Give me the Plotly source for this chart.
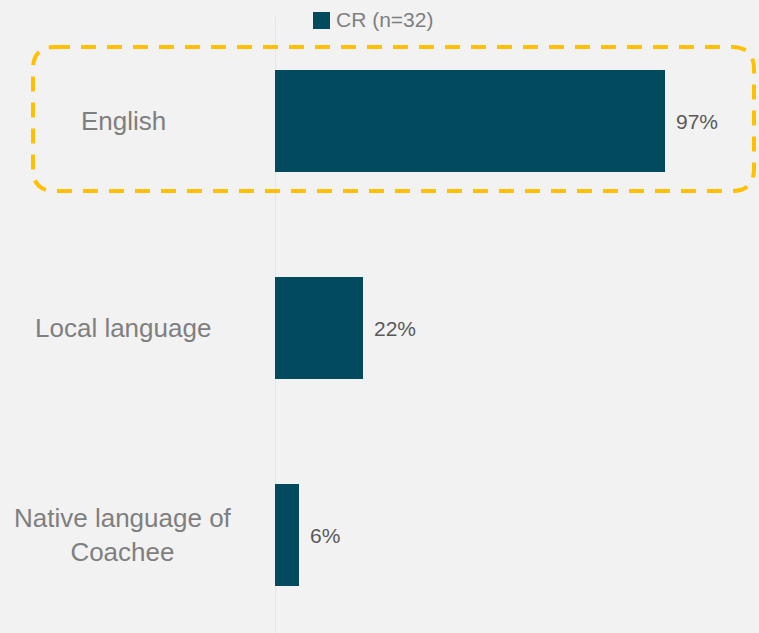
import plotly.graph_objects as go

# Survey results: language used in coaching sessions
categories = ["English", "Local language", "Native language of<br>Coachee"]
values = [97, 22, 6]
series_name = "CR (n=32)"

BAR_COLOR = "#024B5E"
BG = "#F2F2F2"
LABEL_GREY = "#7F7F7F"
VALUE_GREY = "#595959"
FONT = "Arial, Liberation Sans, sans-serif"

W, H = 759, 633
ML, MR, MT, MB = 275, 82, 0, 0
PW, PH = W - ML - MR, H - MT - MB

# category positions: 0, 1, 2 with one category step = 207 px, first centre at y=121 px
STEP = 207.0
y_top = -121.0 / STEP
y_bot = (H - 121.0) / STEP

fig = go.Figure()
fig.add_trace(go.Bar(
    x=values,
    y=list(range(len(categories))),
    orientation="h",
    marker=dict(color=BAR_COLOR, line=dict(width=0)),
    width=0.493,
    name=series_name,
    showlegend=False,
    hoverinfo="skip",
))


def px_to_paper_x(px):
    return (px - ML) / PW


def px_to_paper_y(py):
    return 1 - (py - MT) / PH


annotations = []
# category labels, centred in the left margin
for i, cat in enumerate(categories):
    annotations.append(dict(
        x=px_to_paper_x(123), xref="paper", y=i, yref="y",
        text=cat, showarrow=False, xanchor="center", yanchor="middle",
        align="center", font=dict(family=FONT, size=26, color=LABEL_GREY),
    ))
# value labels at the end of each bar
for i, v in enumerate(values):
    annotations.append(dict(
        x=v, xref="x", y=i, yref="y", text=f"{v}%", showarrow=False,
        xanchor="left", yanchor="middle", xshift=9,
        font=dict(family=FONT, size=21, color=VALUE_GREY),
    ))
# legend entry
annotations.append(dict(
    x=px_to_paper_x(334), xref="paper", y=px_to_paper_y(20), yref="paper",
    text=series_name, showarrow=False, xanchor="left", yanchor="middle",
    font=dict(family=FONT, size=21, color=LABEL_GREY),
))

shapes = []
# legend swatch
shapes.append(dict(
    type="rect", xref="paper", yref="paper",
    x0=px_to_paper_x(313), x1=px_to_paper_x(330),
    y0=px_to_paper_y(12), y1=px_to_paper_y(29),
    fillcolor=BAR_COLOR, line=dict(width=0), layer="above",
))
# vertical baseline at zero
shapes.append(dict(
    type="line", xref="x", yref="paper", x0=0, x1=0,
    y0=0, y1=px_to_paper_y(17),
    line=dict(color="#D9D9D9", width=1), layer="below",
))

# dashed rounded highlight box around the first row
x0, x1, y0, y1, r = 33, 754, 47, 191, 22
pts = []


def P(px, py):
    return f"{px_to_paper_x(px):.5f},{px_to_paper_y(py):.5f}"


path = (
    f"M{P(x0 + r, y0)} L{P(x1 - r, y0)} Q{P(x1, y0)} {P(x1, y0 + r)} "
    f"L{P(x1, y1 - r)} Q{P(x1, y1)} {P(x1 - r, y1)} "
    f"L{P(x0 + r, y1)} Q{P(x0, y1)} {P(x0, y1 - r)} "
    f"L{P(x0, y0 + r)} Q{P(x0, y0)} {P(x0 + r, y0)} Z"
)
shapes.append(dict(
    type="path", xref="paper", yref="paper", path=path,
    line=dict(color="#FFC000", width=4, dash="15px,11px"),
    fillcolor="rgba(0,0,0,0)", layer="above",
))

fig.update_layout(
    width=W, height=H,
    margin=dict(l=ML, r=MR, t=MT, b=MB, pad=0),
    paper_bgcolor=BG, plot_bgcolor=BG,
    xaxis=dict(range=[0, 100], visible=False, fixedrange=True),
    yaxis=dict(range=[y_bot, y_top], visible=False, fixedrange=True),
    annotations=annotations,
    shapes=shapes,
    bargap=0,
)

fig.write_html("out.html", config={"displayModeBar": False})
